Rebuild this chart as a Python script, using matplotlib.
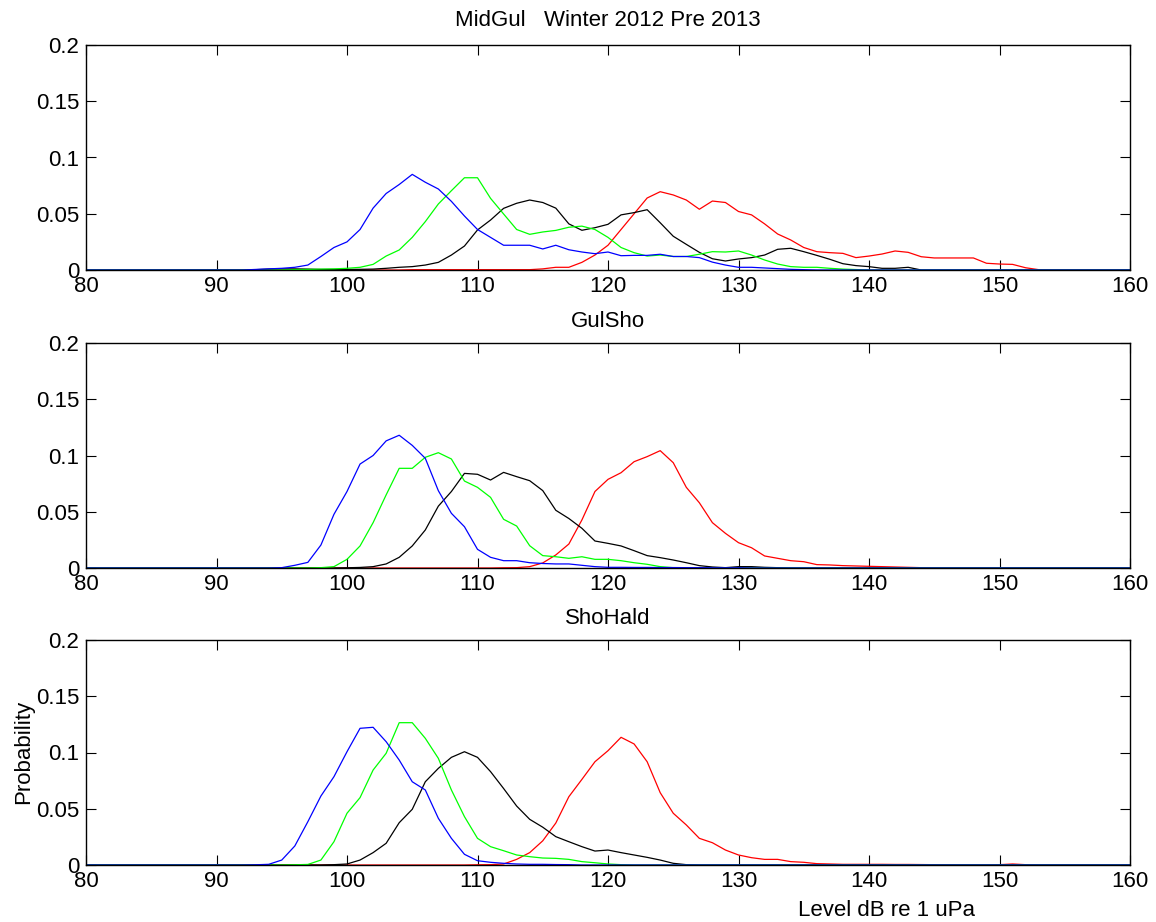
import numpy as np
import matplotlib
matplotlib.use("Agg")
import matplotlib.pyplot as plt

plt.rcParams['font.family'] = ['Liberation Sans', 'DejaVu Sans']

# ---- data (probability per 1 dB bin, 80..160 dB) ----
levels = np.arange(80, 161)

title_main = "MidGul   Winter 2012 Pre 2013"
panel_titles = ["", "GulSho", "ShoHald"]
xlabel = "Level dB re 1 uPa"
ylabel = "Probability"
xticks = [80, 90, 100, 110, 120, 130, 140, 150, 160]
yticks = [0, 0.05, 0.1, 0.15, 0.2]
ytick_labels = ["0", "0.05", "0.1", "0.15", "0.2"]

# panel 1 (MidGul)
p1_blue_start = 93
p1_blue = [0.0005, 0.001, 0.0015, 0.0024, 0.0044, 0.012, 0.020, 0.025, 0.036, 0.055,
           0.068, 0.076, 0.085, 0.078, 0.072, 0.061, 0.048, 0.036, 0.029, 0.022,
           0.022, 0.022, 0.0187, 0.022, 0.018, 0.016, 0.0145, 0.016, 0.0127, 0.013,
           0.013, 0.014, 0.012, 0.012, 0.011, 0.007, 0.0044, 0.0024, 0.0024, 0.0018,
           0.0012, 0.0006, 0.0003]
p1_green_start = 96
p1_green = [0.0003, 0.0005, 0.0008, 0.001, 0.0015, 0.0024, 0.005, 0.0124, 0.0178, 0.029,
            0.043, 0.0587, 0.0705, 0.082, 0.082, 0.0637, 0.0498, 0.036, 0.0317, 0.0338,
            0.0352, 0.038, 0.039, 0.036, 0.029, 0.020, 0.0154, 0.0124, 0.0133, 0.012,
            0.012, 0.014, 0.0163, 0.016, 0.0169, 0.0133, 0.0089, 0.0053, 0.003, 0.0024,
            0.0024, 0.0015, 0.0008, 0.0004]
p1_black_start = 93
p1_black = [0.0003, 0.0008, 0.001, 0.001, 0.0008, 0.0005, 0.0005, 0.0005, 0.0006, 0.0008,
            0.0015, 0.0024, 0.003, 0.0044, 0.0068, 0.0133, 0.0213, 0.0356, 0.0444, 0.0548,
            0.0593, 0.0622, 0.060, 0.055, 0.041, 0.0353, 0.0376, 0.0406, 0.049, 0.051,
            0.0536, 0.042, 0.030, 0.0228, 0.0157, 0.010, 0.008, 0.0098, 0.011, 0.0133,
            0.0184, 0.0193, 0.0163, 0.013, 0.0095, 0.0056, 0.0039, 0.003, 0.0015, 0.0015,
            0.0024]
p1_red_start = 105
p1_red = [0.0003, 0.0003, 0.0003, 0.0003, 0.0003, 0.0003, 0.0003, 0.0003, 0.0003, 0.0003,
          0.001, 0.0024, 0.0024, 0.0068, 0.0133, 0.022, 0.036, 0.050, 0.064, 0.0696,
          0.0667, 0.0622, 0.054, 0.0613, 0.060, 0.052, 0.049, 0.041, 0.032, 0.0267,
          0.020, 0.0163, 0.0154, 0.0148, 0.011, 0.0124, 0.0142, 0.0169, 0.0157, 0.0118,
          0.0107, 0.0107, 0.0107, 0.0107, 0.006, 0.0053, 0.005, 0.002, 0.0003]

# panel 2 (GulSho)
p2_blue_start = 95
p2_blue = [0.0003, 0.0024, 0.005, 0.0204, 0.0477, 0.068, 0.0924, 0.100, 0.113, 0.118,
           0.109, 0.0975, 0.0687, 0.0486, 0.0367, 0.0166, 0.0095, 0.0065, 0.0065, 0.0047,
           0.004, 0.0036, 0.0036, 0.0024, 0.0012, 0.0006, 0.0006, 0.0005, 0.0005, 0.0004,
           0.0004, 0.0003, 0.0003, 0.0002, 0.0002, 0.0002]
p2_green_start = 98
p2_green = [0.0003, 0.0012, 0.0077, 0.0196, 0.0403, 0.065, 0.0886, 0.0886, 0.0984, 0.1025,
            0.0969, 0.0773, 0.0717, 0.0628, 0.0433, 0.0373, 0.0198, 0.011, 0.010, 0.0086,
            0.010, 0.0077, 0.0077, 0.0065, 0.0047, 0.0033, 0.0012, 0.0003]
p2_black_start = 100
p2_black = [0.0002, 0.0005, 0.0012, 0.0036, 0.0095, 0.0196, 0.0338, 0.055, 0.068, 0.0841,
            0.0833, 0.0782, 0.085, 0.0812, 0.0776, 0.0688, 0.0513, 0.044, 0.0353, 0.024,
            0.0219, 0.0196, 0.0154, 0.011, 0.0092, 0.0071, 0.0047, 0.0021, 0.0009, 0.0003,
            0.0012, 0.0012, 0.0006, 0.0003]
p2_red_start = 112
p2_red = [0.0002, 0.0003, 0.0012, 0.0045, 0.0116, 0.0213, 0.0427, 0.068, 0.0788, 0.0847,
          0.0945, 0.099, 0.1043, 0.0936, 0.0717, 0.058, 0.0403, 0.0308, 0.0225, 0.018,
          0.0107, 0.0086, 0.0065, 0.0056, 0.003, 0.0027, 0.0021, 0.0018, 0.0015, 0.0012,
          0.0009, 0.0006, 0.0003]

# panel 3 (ShoHald)
p3_blue_start = 93
p3_blue = [0.0002, 0.0006, 0.0044, 0.0169, 0.0385, 0.0613, 0.0785, 0.1007, 0.1215, 0.1224,
           0.1096, 0.0933, 0.074, 0.0667, 0.0415, 0.0237, 0.0095, 0.0038, 0.0024, 0.0015,
           0.0009, 0.0006, 0.0006, 0.0004, 0.0003]
p3_green_start = 96
p3_green = [0.0002, 0.0005, 0.0044, 0.0207, 0.046, 0.0599, 0.0844, 0.0993, 0.1265, 0.1265,
            0.1126, 0.0948, 0.0667, 0.043, 0.0237, 0.0163, 0.0127, 0.0089, 0.0074, 0.0062,
            0.0059, 0.005, 0.003, 0.002, 0.0009, 0.0003]
p3_black_start = 99
p3_black = [0.0003, 0.0009, 0.0044, 0.011, 0.0193, 0.0376, 0.0495, 0.074, 0.0859, 0.0957,
            0.1007, 0.0957, 0.083, 0.068, 0.0524, 0.0406, 0.0336, 0.0252, 0.0207, 0.0163,
            0.0124, 0.0133, 0.011, 0.0089, 0.0068, 0.0044, 0.0015, 0.0003]
p3_red_start = 110
p3_red = [0.0002, 0.0003, 0.0009, 0.005, 0.011, 0.0215, 0.0373, 0.0607, 0.0761, 0.0918,
          0.1016, 0.1135, 0.1076, 0.0918, 0.0643, 0.046, 0.0356, 0.0237, 0.0198, 0.0133,
          0.0089, 0.0065, 0.005, 0.005, 0.003, 0.0024, 0.0012, 0.0009, 0.0006, 0.0006,
          0.0006, 0.0006, 0.0005, 0.0005, 0.0004, 0.0003, 0.0002, 0.0, 0.0, 0.0,
          0.0003, 0.0009, 0.0003]


def full(start, vals):
    arr = np.zeros(len(levels))
    i0 = start - levels[0]
    arr[i0:i0 + len(vals)] = vals
    return arr


panels = [
    [(p1_red_start, p1_red, "#ff0000"), (p1_black_start, p1_black, "#000000"),
     (p1_green_start, p1_green, "#00ff00"), (p1_blue_start, p1_blue, "#0000ff")],
    [(p2_red_start, p2_red, "#ff0000"), (p2_black_start, p2_black, "#000000"),
     (p2_green_start, p2_green, "#00ff00"), (p2_blue_start, p2_blue, "#0000ff")],
    [(p3_red_start, p3_red, "#ff0000"), (p3_black_start, p3_black, "#000000"),
     (p3_green_start, p3_green, "#00ff00"), (p3_blue_start, p3_blue, "#0000ff")],
]

W, H = 1156, 922
fig = plt.figure(figsize=(W / 100, H / 100), dpi=100)
fig.patch.set_facecolor("white")

left_px, right_px = 86, 1130
tops_px = [45, 343, 640]
ax_h_px = 225
fs = 16

axes = []
for i, top in enumerate(tops_px):
    ax = fig.add_axes([left_px / W, 1 - (top + ax_h_px) / H,
                       (right_px - left_px) / W, ax_h_px / H])
    for start, vals, col in panels[i]:
        ax.plot(levels, full(start, vals), color=col, lw=0.9)
    ax.set_xlim(80, 160)
    ax.set_ylim(0, 0.2)
    ax.set_xticks(xticks)
    ax.set_xticklabels([str(t) for t in xticks])
    ax.set_yticks(yticks)
    ax.set_yticklabels(ytick_labels)
    ax.tick_params(direction="in", length=7, width=0.8, top=True, right=True,
                   labelsize=fs, colors="black")
    ax.tick_params(axis="x", pad=4.5)
    ax.tick_params(axis="y", pad=5)
    for s in ax.spines.values():
        s.set_linewidth(1.0)
    if panel_titles[i]:
        fig.text((left_px + right_px) / 2 / W, 1 - (top - 22) / H, panel_titles[i],
                 ha="center", va="center", fontsize=fs)
    axes.append(ax)

fig.text((left_px + right_px) / 2 / W, 1 - 20 / H, title_main,
         ha="center", va="center", fontsize=fs)

fig.text(24 / W, 1 - 752 / H, ylabel, rotation=90, ha="center", va="center", fontsize=fs)
fig.text(886 / W, 1 - 910 / H, xlabel, ha="center", va="center", fontsize=fs)

fig.savefig("out.png", dpi=100, facecolor="white")
